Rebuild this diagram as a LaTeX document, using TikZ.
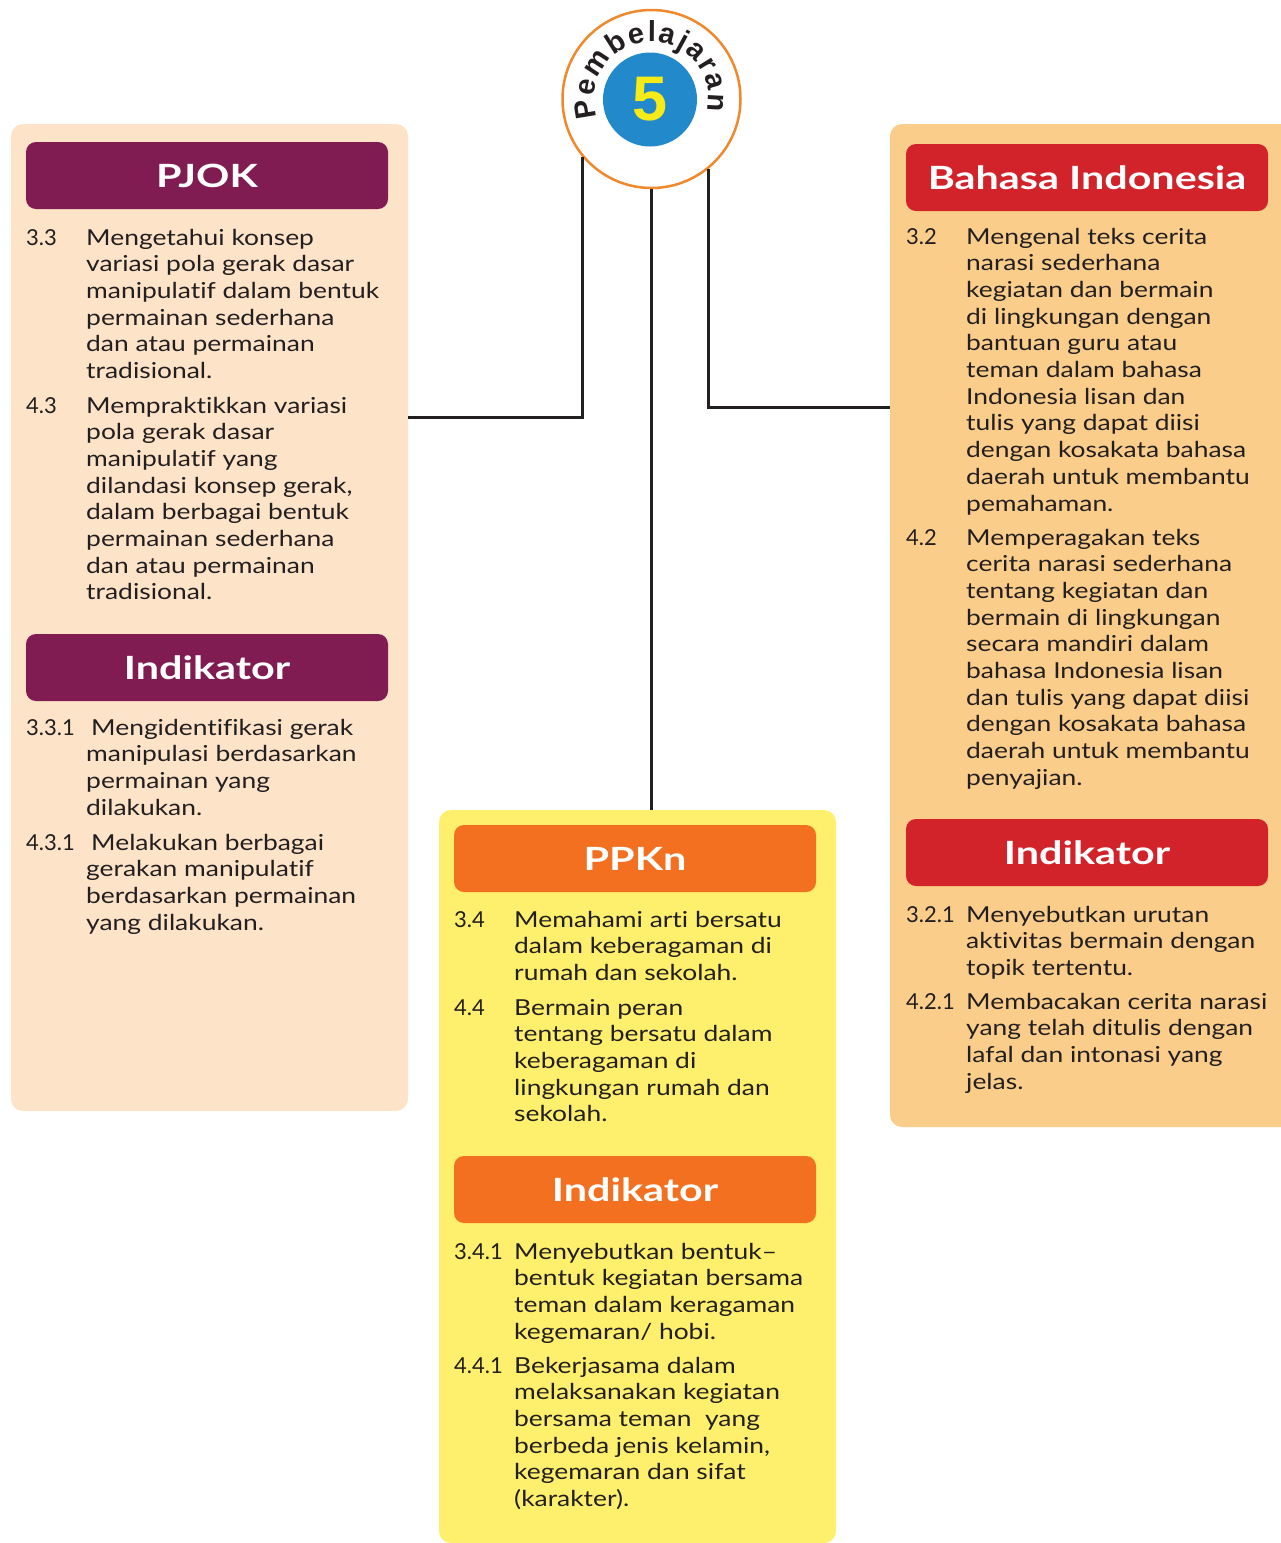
\documentclass[tikz,border=0pt]{standalone}
\usepackage{fontspec}
\setmainfont{Lato}[FakeStretch=1.2, Ligatures=NoCommon]
\newfontfamily\headfamily{Lato}[FakeStretch=1.29, Ligatures=NoCommon]
\newfontfamily\numfamily{Lato}
\newfontfamily\arcfamily{Liberation Sans}
\usetikzlibrary{decorations.text}
\definecolor{txt}{HTML}{231F20}
\definecolor{peach}{HTML}{FDE3C7}
\definecolor{apricot}{HTML}{FBCD8B}
\definecolor{lemon}{HTML}{FEF06C}
\definecolor{plum}{HTML}{811C52}
\definecolor{redhead}{HTML}{D2232A}
\definecolor{orangehead}{HTML}{F37021}
\definecolor{ring}{HTML}{F0892B}
\definecolor{bluedisc}{HTML}{228ACB}
\definecolor{yellowfive}{HTML}{F6EB16}
\newcommand\itemlines[1]{\parbox[t]{400pt}{\raggedright #1}}
\tikzset{
  panel/.style={rounded corners=12pt, inner sep=0pt, outer sep=0pt, anchor=north west, draw=none},
  head/.style={rounded corners=10pt, inner sep=0pt, outer sep=0pt, anchor=north west, draw=none,
    minimum width=362pt, minimum height=67pt, text=white, text depth=-3pt,
    font=\headfamily\fontsize{32}{38}\selectfont\bfseries},
  num/.style={anchor=base west, inner sep=0pt, text=txt, font=\numfamily\fontsize{22}{26.7}\selectfont},
  body/.style={anchor=base west, inner sep=0pt, text=txt, font=\fontsize{22}{26.7}\selectfont},
  conn/.style={draw=txt, line width=3pt}
}
\begin{document}
\begin{tikzpicture}[x=1pt,y=-1pt]
\useasboundingbox (0,0) rectangle (1281,1543);
% panels
\node[panel, fill=peach, minimum width=397pt, minimum height=987pt] (pjokpanel) at (11,124) {};
\node[panel, fill=apricot, minimum width=410pt, minimum height=1003pt] (bipanel) at (890,124) {};
\node[panel, fill=lemon, minimum width=397pt, minimum height=733pt] (ppknpanel) at (439,810) {};
% headers
\node[head, fill=plum] (pjokhead) at (26,142) {PJOK};
\node[head, fill=plum] (pjokind) at (26,634) {Indikator};
\node[head, fill=redhead] (bihead) at (906,144) {Bahasa Indonesia};
\node[head, fill=redhead] (biind) at (906,819) {Indikator};
\node[head, fill=orangehead] (ppknhead) at (454,825) {PPKn};
\node[head, fill=orangehead] (ppknind) at (454,1156) {Indikator};
% PJOK items
\node[num] (n33) at (26,245) {3.3};
\node[body] (t33) at (86,245) {\itemlines{Mengetahui konsep\\variasi pola gerak dasar\\manipulatif dalam bentuk\\permainan sederhana\\dan atau permainan\\tradisional.}};
\node[num] (n43) at (26,413) {4.3};
\node[body] (t43) at (86,413) {\itemlines{Mempraktikkan variasi\\pola gerak dasar\\manipulatif yang\\dilandasi konsep gerak,\\dalam berbagai bentuk\\permainan sederhana\\dan atau permainan\\tradisional.}};
\node[num] (n331) at (26,735) {3.3.1};
\node[body] (t331) at (86,735) {\itemlines{\hspace*{5pt}Mengidentifikasi gerak\\manipulasi berdasarkan\\permainan yang\\dilakukan.}};
\node[num] (n431) at (26,850) {4.3.1};
\node[body] (t431) at (86,850) {\itemlines{\hspace*{5pt}Melakukan berbagai\\gerakan manipulatif\\berdasarkan permainan\\yang dilakukan.}};
% Bahasa Indonesia items
\node[num] (n32) at (906,244) {3.2};
\node[body] (t32) at (966,244) {\itemlines{Mengenal teks cerita\\narasi sederhana\\kegiatan dan bermain\\di lingkungan dengan\\bantuan guru atau\\teman dalam bahasa\\Indonesia lisan dan\\tulis yang dapat diisi\\dengan kosakata bahasa\\daerah untuk membantu\\pemahaman.}};
\node[num] (n42) at (906,545) {4.2};
\node[body] (t42) at (966,545) {\itemlines{Memperagakan teks\\cerita narasi sederhana\\tentang kegiatan dan\\bermain di lingkungan\\secara mandiri dalam\\bahasa Indonesia lisan\\dan tulis yang dapat diisi\\dengan kosakata bahasa\\daerah untuk membantu\\penyajian.}};
\node[num] (n321) at (906,922) {3.2.1};
\node[body] (t321) at (966,922) {\itemlines{Menyebutkan urutan\\aktivitas bermain dengan\\topik tertentu.}};
\node[num] (n421) at (906,1009) {4.2.1};
\node[body] (t421) at (966,1009) {\itemlines{Membacakan cerita narasi\\yang telah ditulis dengan\\lafal dan intonasi yang\\jelas.}};
% PPKn items
\node[num] (n34) at (454,927) {3.4};
\node[body] (t34) at (514,927) {\itemlines{Memahami arti bersatu\\dalam keberagaman di\\rumah dan sekolah.}};
\node[num] (n44) at (454,1015) {4.4};
\node[body] (t44) at (514,1015) {\itemlines{Bermain peran\\tentang bersatu dalam\\keberagaman di\\lingkungan rumah dan\\sekolah.}};
\node[num] (n341) at (454,1259) {3.4.1};
\node[body] (t341) at (514,1259) {\itemlines{Menyebutkan bentuk--\\bentuk kegiatan bersama\\teman dalam keragaman\\kegemaran/ hobi.}};
\node[num] (n441) at (454,1373) {4.4.1};
\node[body] (t441) at (514,1373) {\itemlines{Bekerjasama dalam\\melaksanakan kegiatan\\bersama teman\ \ yang\\berbeda jenis kelamin,\\kegemaran dan sifat\\(karakter).}};
% badge
\node[circle, draw=ring, line width=2.5pt, fill=white, minimum size=178pt, inner sep=0pt] (circ) at (651.5,99) {};
\node[circle, fill=bluedisc, minimum size=94pt, inner sep=0pt] (disc) at (650,99.5) {};
\node[text=yellowfive, font=\arcfamily\fontsize{63}{63}\selectfont\bfseries, inner sep=0pt] (five) at (disc.center) {5};
\path[decorate, decoration={text along path, text align={fit to path}, text={|\arcfamily\bfseries\fontsize{29}{29}\selectfont\color{txt}|Pembelajaran}}]
  (circ.center) ++(-199:57) arc[start angle=-199, end angle=12, radius=57];
% connectors
\coordinate (lj) at (408,417);
\coordinate (rj) at (890,407);
\draw[conn] (circ.220) |- (lj);
\draw[conn] (circ.-51) |- (rj);
\draw[conn] (circ.south) -- (circ.south |- ppknpanel.north);
\end{tikzpicture}
\end{document}
